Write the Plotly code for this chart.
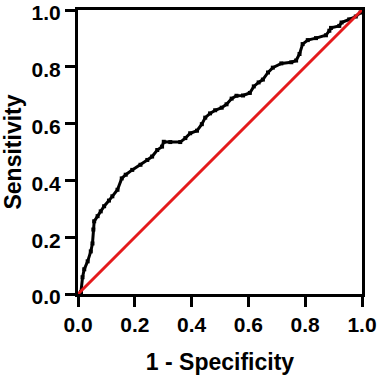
import plotly.graph_objects as go

# ROC curve points (1 - specificity, sensitivity)
fpr = [0.0, 0.0105, 0.016, 0.022, 0.034, 0.045, 0.051, 0.054, 0.057, 0.069, 0.080, 0.092,
       0.109, 0.121, 0.139, 0.154, 0.168, 0.191, 0.220, 0.244, 0.261, 0.279, 0.296, 0.302,
       0.325, 0.360, 0.378, 0.395, 0.419, 0.436, 0.448, 0.465, 0.483, 0.506, 0.523, 0.541,
       0.558, 0.581, 0.605, 0.619, 0.636, 0.651, 0.669, 0.686, 0.716, 0.751, 0.768, 0.780,
       0.791, 0.809, 0.838, 0.873, 0.885, 0.891, 0.920, 0.928, 0.955, 0.978, 0.995, 1.0]
tpr = [0.0, 0.007, 0.059, 0.087, 0.115, 0.150, 0.178, 0.227, 0.256, 0.274, 0.291, 0.309,
       0.329, 0.344, 0.367, 0.407, 0.420, 0.437, 0.455, 0.472, 0.484, 0.507, 0.519, 0.536,
       0.535, 0.535, 0.549, 0.566, 0.575, 0.598, 0.621, 0.636, 0.647, 0.656, 0.668, 0.688,
       0.698, 0.699, 0.708, 0.731, 0.745, 0.755, 0.780, 0.797, 0.812, 0.816, 0.822, 0.845,
       0.880, 0.894, 0.901, 0.911, 0.927, 0.937, 0.944, 0.956, 0.967, 0.977, 0.991, 1.0]

ref_x = [0.0, 1.0]
ref_y = [0.0, 1.0]

tick_vals = [0.0, 0.2, 0.4, 0.6, 0.8, 1.0]
tick_text = ["0.0", "0.2", "0.4", "0.6", "0.8", "1.0"]

FONT = "Liberation Sans, Arial, Helvetica, sans-serif"

fig = go.Figure()
fig.add_trace(go.Scatter(x=fpr, y=tpr, mode="lines+markers",
                         line=dict(color="black", width=3),
                         marker=dict(color="black", size=4, symbol="square"),
                         showlegend=False, hoverinfo="skip"))
fig.add_trace(go.Scatter(x=ref_x, y=ref_y, mode="lines",
                         line=dict(color="#e41a1c", width=3),
                         showlegend=False, hoverinfo="skip"))

axis_common = dict(
    range=[0, 1], tickvals=tick_vals, ticktext=tick_text,
    showgrid=False, zeroline=False, automargin=False,
    ticklabeloverflow="allow",
    showline=True, linecolor="black", linewidth=3, mirror=True,
    ticks="outside", ticklen=10, tickwidth=3, tickcolor="black",
    tickfont=dict(family=FONT, size=21, color="black", weight="bold"),
)

fig.update_layout(
    width=383, height=375,
    margin=dict(l=78, r=21, t=10, b=81, autoexpand=False),
    paper_bgcolor="white", plot_bgcolor="white",
    xaxis=dict(**axis_common,
               title=dict(text="1 - Specificity", standoff=19,
                          font=dict(family=FONT, size=23, color="black", weight="bold"))),
    yaxis=dict(**axis_common, ticklabelshift=3,
               title=dict(text="Sensitivity", standoff=6,
                          font=dict(family=FONT, size=23, color="black", weight="bold"))),
)

fig.write_html("out.html",
               config={"displayModeBar": False, "staticPlot": True},
               post_script="document.body.style.margin='0';document.body.style.padding='0';"
                           "document.body.style.overflow='hidden';")
